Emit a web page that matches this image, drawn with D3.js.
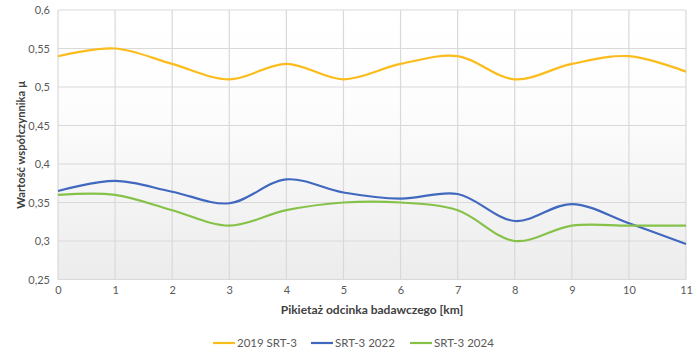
<!DOCTYPE html>
<html><head><meta charset="utf-8">
<script src="https://cdn.jsdelivr.net/npm/d3@7/dist/d3.min.js"></script>
<style>
html,body{margin:0;padding:0;background:#fff;}
svg{display:block;font-family:Lato,"Open Sans",sans-serif;}
</style></head><body>
<svg id="c" width="697" height="356"></svg>
<script>
const xValues = [0,1,2,3,4,5,6,7,8,9,10,11];
const yTicks = [0.25,0.3,0.35,0.4,0.45,0.5,0.55,0.6];
const seriesNames = ["2019 SRT-3","SRT-3 2022","SRT-3 2024"];
const s2019 = [0.54,0.55,0.53,0.51,0.53,0.51,0.53,0.54,0.51,0.53,0.54,0.52];
const s2022 = [0.365,0.378,0.364,0.349,0.380,0.363,0.355,0.361,0.326,0.348,0.323,0.296];
const s2024 = [0.36,0.36,0.34,0.32,0.34,0.35,0.35,0.34,0.30,0.32,0.32,0.32];
const colors = ["#FBBC1C","#4068BE","#86C24A"];
const xTitle = "Pikietaż odcinka badawczego [km]";
const yTitle = "Wartość współczynnika µ";

const svg = d3.select("#c");
const m = {l:58, r:686, t:10, b:279.5};
const x = d3.scaleLinear().domain([0,11]).range([m.l,m.r]);
const y = d3.scaleLinear().domain([0.25,0.6]).range([m.b,m.t]);

const defs = svg.append("defs");
const g = defs.append("linearGradient").attr("id","bg").attr("x1",0).attr("y1",0).attr("x2",0).attr("y2",1);
g.append("stop").attr("offset","0%").attr("stop-color","#ffffff");
g.append("stop").attr("offset","35%").attr("stop-color","#fdfdfd");
g.append("stop").attr("offset","100%").attr("stop-color","#ececec");

svg.append("rect").attr("x",x(0)).attr("y",y(0.6)).attr("width",x(11)-x(0)).attr("height",y(0.25)-y(0.6)).attr("fill","url(#bg)");

// grid
svg.append("g").selectAll("line").data(yTicks).join("line")
  .attr("x1",x(0)).attr("x2",x(11)).attr("y1",d=>y(d)).attr("y2",d=>y(d))
  .attr("stroke","#d9d9d9").attr("stroke-width",1.2);
svg.append("g").selectAll("line").data(xValues).join("line")
  .attr("y1",y(0.25)).attr("y2",y(0.6)).attr("x1",d=>x(d)).attr("x2",d=>x(d))
  .attr("stroke","#d9d9d9").attr("stroke-width",1.2);

// axes labels via d3 axes
const fmt = d => String(d).replace(".",",");
const ya = svg.append("g").attr("transform",`translate(${x(0)},0)`)
  .call(d3.axisLeft(y).tickValues(yTicks).tickFormat(fmt).tickSize(0).tickPadding(8));
ya.select(".domain").remove();
ya.selectAll("text").attr("font-family","Lato, sans-serif").attr("font-size",11).attr("fill","#595959");
const xa = svg.append("g").attr("transform",`translate(0,${y(0.25)})`)
  .call(d3.axisBottom(x).tickValues(xValues).tickFormat(d=>d).tickSize(0).tickPadding(7));
xa.select(".domain").remove();
xa.selectAll("text").attr("font-family","Lato, sans-serif").attr("font-size",11).attr("fill","#595959");

// lines
const line = d3.line().x((d,i)=>x(xValues[i])).y(d=>y(d)).curve(d3.curveCatmullRom.alpha(0.5));
[s2019,s2022,s2024].forEach((s,i)=>{
  svg.append("path").datum(s).attr("d",line).attr("fill","none")
    .attr("stroke",colors[i]).attr("stroke-width",2.2).attr("stroke-linejoin","round");
});

// titles
svg.append("text").attr("x",(x(0)+x(11))/2).attr("y",314).attr("text-anchor","middle")
  .attr("font-size",12).attr("font-weight","bold").attr("fill","#404040").text(xTitle);
svg.append("text").attr("transform",`translate(25,${(y(0.25)+y(0.6))/2}) rotate(-90)`)
  .attr("text-anchor","middle").attr("font-size",11.2).attr("font-weight","bold").attr("fill","#404040").text(yTitle);

// legend
const legX = [213,311,410];
seriesNames.forEach((n,i)=>{
  const lg = svg.append("g").attr("transform",`translate(${legX[i]},343)`);
  lg.append("line").attr("x1",0).attr("x2",22).attr("y1",0).attr("y2",0).attr("stroke",colors[i]).attr("stroke-width",2.2);
  lg.append("text").attr("x",24).attr("y",4.2).attr("font-size",11.5).attr("fill","#595959").text(n);
});
</script>
</body></html>
